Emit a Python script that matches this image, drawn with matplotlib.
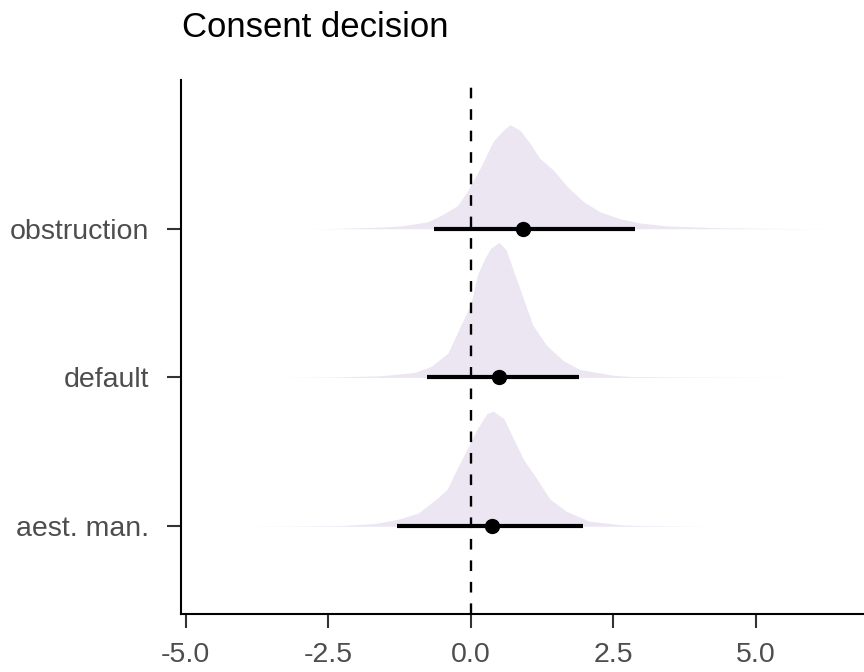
import numpy as np
import matplotlib
matplotlib.use('Agg')
from matplotlib import pyplot as plt

plt.rcParams['font.family'] = ['Liberation Sans', 'DejaVu Sans']

# rows, bottom to top
labels = ['aest. man.', 'default', 'obstruction']

# posterior density outline (height as fraction of row spacing)
obs_x = [-2.9, -2.4, -1.5, -1.2, -0.75, -0.47, -0.23, -0.06, 0.17, 0.40, 0.58, 0.69, 0.87,
         1.04, 1.21, 1.45, 1.68, 1.97, 2.26, 2.60, 2.95, 3.41, 4.28, 5.2, 6.3]
obs_h = [0, 0.002, 0.012, 0.02, 0.047, 0.10, 0.156, 0.25, 0.41, 0.59, 0.665, 0.70, 0.66,
         0.575, 0.475, 0.395, 0.29, 0.185, 0.115, 0.07, 0.04, 0.02, 0.007, 0.003, 0]

def_x = [-3.3, -2.4, -1.56, -0.98, -0.69, -0.40, -0.17, 0.0, 0.12, 0.23, 0.35, 0.5, 0.62,
         0.75, 0.92, 1.09, 1.33, 1.62, 1.91, 2.48, 2.78, 3.6, 4.3, 5.9]
def_h = [0, 0.003, 0.012, 0.034, 0.075, 0.163, 0.353, 0.488, 0.69, 0.786, 0.868, 0.908, 0.86,
         0.72, 0.535, 0.353, 0.217, 0.115, 0.054, 0.016, 0.007, 0.003, 0.002, 0]

aes_x = [-4.1, -3.0, -2.26, -1.68, -1.27, -0.92, -0.58, -0.41, -0.24, -0.03, 0.12, 0.29, 0.40,
         0.58, 0.75, 0.92, 1.16, 1.39, 1.68, 2.08, 2.66, 2.95, 3.6, 4.2]
aes_h = [0, 0.002, 0.005, 0.018, 0.047, 0.088, 0.19, 0.25, 0.386, 0.542, 0.658, 0.76, 0.773,
         0.725, 0.59, 0.454, 0.319, 0.183, 0.10, 0.034, 0.009, 0.005, 0.002, 0]

# point estimate and interval
point = [0.38, 0.50, 0.91]
lower = [-1.30, -0.76, -0.64]
upper = [1.97, 1.90, 2.89]

xticks = [-5.0, -2.5, 0.0, 2.5, 5.0]

dens = [(aes_x, aes_h), (def_x, def_h), (obs_x, obs_h)]

fig = plt.figure(figsize=(8.64, 6.72), dpi=100)
ax = fig.add_axes([181/864, 58/672, 1 - 181/864, (614 - 80)/672])

for i, (dx, dh) in enumerate(dens):
    row = i + 1
    ax.fill_between(dx, row, row + np.array(dh), color='#EBE6F2', lw=0, zorder=1)

ax.axvline(0, color='black', lw=1.7, linestyle=(0, (4.5, 4.6)), zorder=2)

rows = np.arange(1, len(labels) + 1)
ax.hlines(rows, lower, upper, color='black', lw=3, zorder=3)
ax.plot(point, rows, 'o', color='black', ms=10, zorder=4)

ax.set_xlim(-5.08, 6.90)
ax.set_ylim(0.41, 4.0)
ax.set_xticks(xticks)
ax.set_xticklabels(['%.1f' % t for t in xticks])
ax.set_yticks(rows)
ax.set_yticklabels(labels)

for s in ['top', 'right']:
    ax.spines[s].set_visible(False)
for s in ['left', 'bottom']:
    ax.spines[s].set_linewidth(1.5)
    ax.spines[s].set_color('black')
ax.tick_params(axis='both', length=10, width=1.5, color='#333333',
               labelsize=20.5, labelcolor='#4D4D4D')
ax.tick_params(axis='x', pad=10)
ax.tick_params(axis='y', pad=13)

fig.text(182/864, 1 - 37/672, 'Consent decision', fontsize=25, color='black',
         ha='left', va='baseline')

plt.savefig('out.png', dpi=100)
